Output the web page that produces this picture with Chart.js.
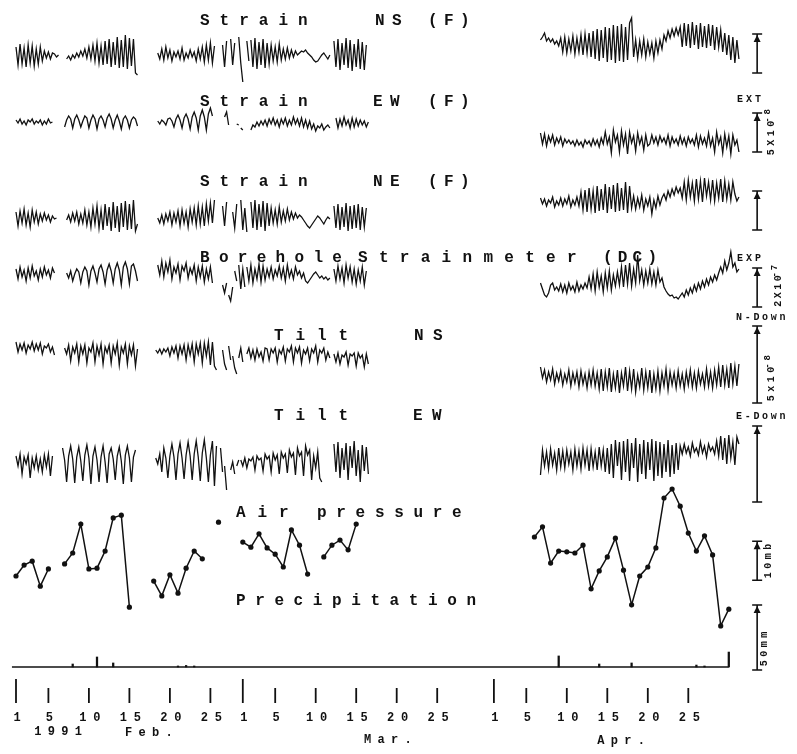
<!DOCTYPE html>
<html>
<head>
<meta charset="utf-8">
<script src="https://cdn.jsdelivr.net/npm/chart.js@4.4.0/dist/chart.umd.min.js"></script>
<style>
  html, body { margin: 0; padding: 0; background: #fff; }
  #wrap { width: 797px; height: 754px; }
</style>
</head>
<body>
<div id="wrap"><canvas id="chart" width="797" height="754"></canvas></div>
<script>
// days counted from 1 Feb 1991 (= day 0); traces read every 6 hours
const STEP = 0.25;

// each trace: list of [start day, readings]; null = pen lifted
const strainNsFeb = [
  [0, [8,-10,11,-9,7,-12,10,-8,9,-11,6,-9,8,-6,4,-3,3,-4,2,1,-2,0]],
  [6.25, [-4,-1,-5,0,-3,2,-2,4,-1,6,-3,8,-4,10,-6,12,-8,9,-10,14,-9,16,-12,13,-10,18,-13,15,-12,20,-14,17,-11,16,-18,-20]],
  [17.5, [2,-4,6,-5,8,-3,5,-6,3,-2,4,-4,7,-5,2,-3,5,-2,3,-6,6,-4,8,-7,10,-5,12,-8,9]],
  [25.5, [10,-12,14]],
  [26.5, [16,-10,12]],
  [27.5, [18,-8,-27]],
  [28.5, [14,-6]],
  [29, [15,-12,17,-14,13,-10,16,-13,12,-9,10,-6,8,-7,11,-5,6,-4,7,-3,5,-2,4,0,2,4,3,5,2,0,-2,-5,-7,-6,-3,0,2,-1,-4,0]],
  [39.25, [14,-12,16,-15,12,-10,17,-13,15,-16,11,-12,16,-14,13,-15,10]]
];
const strainNsApr = [
  [64.75, [15,18,22,14,17,13,16,11,14,9,
    17,3,18,2,16,4,19,1,17,3,20,0,21,2,22,
    -2,24,-4,26,-6,25,-3,28,-7,27,-5,30,-8,29,-6,31,-7,28,-5,32,
    37,-2,
    15,-3,14,0,16,-2,13,1,12,-3,14,2,15,6,
    20,14,24,17,26,19,27,20,28,
    8,32,9,31,7,33,10,30,6,32,8,29,7,31,9,30,5,28,8,
    25,3,22,0,20,-5,18,-8,15,-4]]
];

const strainEwFeb = [
  [0, [2,-1,3,-2,1,-3,2,0,3,-2,1,-1,2,-3,1,-2,3,-1,0]],
  [6, [-5,2,6,3,-6,3,7,2,-5,1,6,4,-6,2,7,3,-7,3,6,2,-5,4,8,3,-6,2,7,1,-7,3,6,2,-6,2,5,3,-4]],
  [17.5, [1,-2,2,0,-3,3,4,1,-5,3,7,2,-6,4,8,3,-7,5,10,4,-8,6,12,5,-8,8,14,6]],
  [25.75, [5,10,-3]],
  [27.25, [-2,-3]],
  [27.75, [-6,-8]],
  [29, [-8,-3,-5,0,-4,1,-3,2,-4,3,-2,4,-3,2,-5,3,-2,4,-4,2,-3,5,-2,3,-4,4,-5,2,-6,1,-7,-2,-9,-4,-6,-2,-8,-5,-3,-6]],
  [39.5, [4,-6,3,-4,5,-3,2,-6,4,-5,3,-4,2,-3,1,-5,0]]
];
const strainEwApr = [
  [64.75, [-11,-22,-12,-24,-14,-20,-13,-23,-16,-21,-15,-24,-17,-21,-18,
    -22,-19,-24,-18,-23,-20,-25,-18,-22,-19,-24,-17,-23,-18,-25,-16,-22,
    -10,-22,-15,-31,-8,-20,-13,-30,-9,-23,-12,-32,-10,-21,-14,-29,-11,-22,-15,-28,-13,-24,
    -22,-13,-21,-15,-23,-14,-20,-16,-22,-13,-24,-15,-21,-17,-23,-14,-22,-16,-24,-15,-21,-17,-23,-13,-25,-14,-22,-16,-24,
    -11,-24,-16,-30,-10,-22,-15,-31,-12,-25,-14,-32,-13,-23,-18,-30]]
];

const strainNeFeb = [
  [0, [6,-8,7,-5,9,-7,5,-9,8,-4,6,-6,4,-3,5,-2,3,-4,2,-1,0]],
  [6.25, [-2,3,-4,5,-3,6,-6,4,-5,8,-7,6,-9,10,-6,12,-10,8,-12,14,-8,11,-13,16,-10,12,-14,15,-9,17,-12,14,-11,18,-13,-6]],
  [17.5, [0,-5,3,-6,4,-3,6,-7,5,-4,7,-8,8,-5,6,-9,9,-4,10,-7,12,-6,11,-8,14,-3,15,-5,18]],
  [25.5, [12,-8,16]],
  [26.75, [6,-10,14]],
  [27.75, [18,-12,10,-14]],
  [29, [16,-10,18,-12,14,-9,17,-13,15,-8,10,-5,8,-6,11,-4,7,-3,9,-2,6,-1,5,0,3,1,-2,-5,-8,-10,-7,-4,-1,2,0,-3,-6,-2,1,-1]],
  [39.25, [12,-10,14,-12,11,-9,15,-13,12,-11,13,-10,14,-12,11,-9,10]]
];
const strainNeApr = [
  [64.75, [20,14,19,12,18,15,21,11,17,13,20,12,19,14,22,11,18,13,21,12,
    26,8,28,6,30,9,27,5,32,7,29,8,34,5,31,9,33,6,35,7,30,8,36,5,32,
    10,22,9,20,11,23,8,19,12,21,4,18,10,22,13,20,
    24,18,27,21,29,23,31,25,30,
    20,36,18,38,21,35,17,39,19,37,16,40,22,36,18,38,17,35,20,39,16,37,19,34,18,36,
    24,17,21]]
];

const boreholeFeb = [
  [0, [6,-4,8,-2,5,-6,7,-3,9,-1,4,-5,6,-2,8,0,5,-3,7,2]],
  [6.25, [2,-3,4,-6,1,6,3,-8,3,8,4,-10,4,9,2,-7,6,10,3,-9,5,11,4,-8,6,12,5,-10,8,13,6,-9,9,11,4,-6]],
  [17.5, [10,0,14,-2,12,3,15,-4,8,2,11,-5,9,4,12,-3,7,1,10,-6,8,-2,9,-7,6,-4,8,-8]],
  [25.5, [-10,-18,-8]],
  [26.25, [-20,-26,-12]],
  [27, [4,-6]],
  [27.5, [10,-14,6,-12]],
  [28.5, [8,-6,10,-8,6,-4,11,-7,9,-5,6,-2,8,-4,5,-1,9,-3,7,-6,10,-2,5,-4,8,0,4,-3,2,-6,-8,-5,-2,1,3,0,-3,-1,-4,-2,-5,-3]],
  [39.25, [6,-6,9,-4,7,-8,10,-3,8,-7,6,-9,5,-6,8,-10,4]]
];
const boreholeApr = [
  [64.75, [-8,-14,-20,-22,-18,-10,-8,-15,-12,
    -16,-9,-17,-10,-18,-8,-15,-11,-17,-7,-16,-10,-14,-8,-13,
    -2,-14,1,-16,3,-12,-1,-17,2,-13,4,-15,0,-11,3,-10,
    8,-12,10,-9,12,-11,6,-8,
    20,-6,
    5,-10,4,-8,6,-9,3,-10,5,-7,-3,
    -12,-16,-19,-21,-20,-23,-22,-24,-21,
    -18,-22,-15,-20,-13,-18,-10,-16,-8,-14,-6,-12,-4,-10,-2,-7,0,-5,2,
    8,2,14,5,12,23,8,
    12,3,6]]
];

const tiltNsFeb = [
  [0, [10,0,8,2,9,-1,7,3,10,1,8,2,9,-2,6,4,8,0,5,-3]],
  [6, [4,-2,7,-9,5,-1,8,-10,6,-2,7,-11,4,0,9,-10,6,-3,8,-12,5,-1,7,-11,6,-2,9,-13,5,-1,8,-12,6,-3,7,-14,3]],
  [17.25, [2,-1,3,-2,3,0,4,-4,5,-1,6,-6,6,-2,7,-8,7,-3,8,-10,8,-2,9,-11,9,-4,10,-13,10,-14,-18]],
  [25.5, [2,-12,-18]],
  [26.25, [6,-8]],
  [26.75, [-4,-16,-22]],
  [27.5, [-6,4,-10]],
  [28.5, [-2,4,-6,2,-8,3,-5,0,-9,4,3,-8,3,-1,4,-10,2,-2,5,-9,3,0,6,-10,4,-1,5,-11,2,-2,4,-9,3,-1,6,-10,2,-1,4,-8,0,-6]],
  [39.25, [-2,-10,-1,-12,-3,-5,0,-13,-2,-4,-1,-14,-1,-6,-3,-15,-2,-12]]
];
const tiltNsApr = [
  [64.75, [-15,-26,-18,-30,-20,-28,-17,-32,-21,-29,-19,-33,-22,-30,-18,-34,-21,-31,-20,-35,-19,-32,-22,-36,-20,-33,-18,-34,-21,-37,
    -17,-39,-20,-35,-16,-40,-22,-36,-18,-41,-21,-34,-15,-39,-19,-37,-17,-40,-23,-35,-16,-38,-20,-36,-18,-41,-22,-37,-19,-39,-21,-34,-17,-38,-20,
    -33,-21,-36,-19,-34,-22,-37,-20,-33,-18,-35,-21,-36,-19,-32,-22,-35,-17,-34,-20,-36,-18,-33,-15,
    -35,-13,-33,-17,-36,-11,-32,-14,-34,-12]]
];

const tiltEwFeb = [
  [0, [6,-4,8,-12,5,-2,7,-16,4,-6,6,-8,3,-10,7,-5,8,-14,6]],
  [5.75, [14,2,-20,6,16,3,-21,5,15,1,-19,7,17,4,-22,6,15,2,-20,5,16,0,-21,8,14,3,-18,6,15,1,-22,7,16,4,-20,5,12]],
  [17.25, [4,-2,8,-10,14,4,-16,6,18,5,-18,8,19,4,-17,7,20,6,-18,8,21,5,-19,9,22,4,-20,7,21,-24,16]],
  [25.25, [14,-10]],
  [25.75, [-4,-28]],
  [26.5, [-8,0,-12]],
  [27.25, [-4,2]],
  [27.75, [2,-4,4,-6,3,1,5,-8,6,2,4,-9,8,3,6,-10,9,2,7,-12,10,4,8,-11,12,5,9,-13,14,6,10,-14,16,7,12,-18,6,-6,10,-16,-20]],
  [39.25, [18,-10,20,-16,14,-8,19,-18,16,-6,21,-14,12,-20,17,-9,15,-12]]
];
const tiltEwApr = [
  [64.75, [-13,12,-4,10,-7,13,-3,9,-8,14,-5,11,-6,12,-2,10,-8,13,-4,11,-7,14,-3,12,-9,13,-5,10,-8,15,-4,12,-10,14,
    -12,18,-16,22,-4,20,-18,21,-10,23,-19,19,-6,24,-20,18,-12,22,-17,20,-8,23,-19,21,-14,20,-16,18,-10,22,-15,17,-12,19,-8,
    16,8,18,9,15,6,19,10,14,7,20,9,16,5,18,11,15,8,21,6,
    26,2,24,-2,27,4,20,-3,25,18]]
];

// daily air pressure (mb)
const airDays = [0,1,2,3,4, 6,7,8,9,10,11,12,13,14, 17,18,19,20,21,22,23, 25,
  28,29,30,31,32,33,34,35,36, 38,39,40,41,42,
  64,65,66,67,68,69,70,71,72,73,74,75,76,77,78,79,80,81,82,83,84,85,86,87,88];
const airMb = [1010.9,1013.7,1014.7,1008.3,1012.7,
  1014.0,1016.8,1024.2,1012.7,1012.9,1017.3,1025.8,1026.5,1002.9,
  1009.6,1005.8,1011.2,1006.5,1012.9,1017.3,1015.3,
  1024.7,
  1019.6,1018.3,1021.7,1018.1,1016.5,1013.2,1022.7,1018.8,1011.4,
  1015.8,1018.8,1020.1,1017.6,1024.2,
  1020.9,1023.5,1014.2,1017.3,1017.1,1016.8,1018.8,1007.6,1012.2,1015.8,1020.6,1012.4,1003.5,
  1010.9,1013.2,1018.1,1030.9,1033.2,1028.8,1021.9,1017.3,1021.2,1016.3,998.1,1002.4];

// daily precipitation (mm)
const rainDays = [7, 10, 12, 20, 21, 22, 67, 72, 76, 84, 85, 88];
const rainMm = [2.3, 7.7, 3.1, 0.8, 1.2, 0.8, 8.5, 2.3, 3.1, 1.5, 0.8, 11.5];
const recordSpan = [-0.5, 88];

// time axis
const tickDays = [0,4,9,14,19,24, 28,32,37,42,47,52, 59,63,68,73,78,83];
const tickLabels = ['1','5','10','15','20','25','1','5','10','15','20','25','1','5','10','15','20','25'];
const monthStarts = [0, 28, 59];
const monthNames = ['1991', 'Feb.', 'Mar.', 'Apr.'];
const monthNameDays = [5.2, 16.4, 45.9, 74.7];

const W = 797, H = 754;
const MONO = '"Liberation Mono", "DejaVu Sans Mono", monospace';

// value range of a hidden axis so that centerValue sits at centerPx
function band(centerPx, centerValue, pxPerUnit) {
  return {
    type: 'linear', display: false,
    min: centerValue - (H - centerPx) / pxPerUnit,
    max: centerValue + centerPx / pxPerUnit
  };
}

function toPoints(segments) {
  const pts = [];
  segments.forEach(([start, vals]) => {
    vals.forEach((v, i) => pts.push({ x: start + i * STEP, y: v }));
    pts.push({ x: start + vals.length * STEP, y: null });
  });
  return pts;
}

function trace(segments, axis) {
  return {
    type: 'line', data: toPoints(segments), yAxisID: axis,
    borderColor: '#111', borderWidth: 1.3, pointRadius: 0, tension: 0
  };
}

const airPoints = [];
airDays.forEach((d, i) => {
  if (i > 0 && d - airDays[i - 1] > 1) airPoints.push({ x: (d + airDays[i - 1]) / 2, y: null });
  airPoints.push({ x: d, y: airMb[i] });
});

const datasets = [
  trace(strainNsFeb, 'sNS'), trace(strainNsApr, 'sNS'),
  trace(strainEwFeb, 'sEW'), trace(strainEwApr, 'sEW'),
  trace(strainNeFeb, 'sNE'), trace(strainNeApr, 'sNE'),
  trace(boreholeFeb, 'dc'), trace(boreholeApr, 'dc'),
  trace(tiltNsFeb, 'tNS'), trace(tiltNsApr, 'tNS'),
  trace(tiltEwFeb, 'tEW'), trace(tiltEwApr, 'tEW'),
  {
    type: 'line', data: airPoints, yAxisID: 'air',
    borderColor: '#111', borderWidth: 1.5, tension: 0,
    pointRadius: 2.6, pointBackgroundColor: '#111', pointBorderWidth: 0
  },
  {
    type: 'bar', data: rainDays.map((d, i) => ({ x: d, y: rainMm[i] })), yAxisID: 'rain',
    backgroundColor: '#111', barThickness: 1.6, grouped: false
  }
];

function spaced(ctx, text, x, y, pitch) {
  for (let i = 0; i < text.length; i++) ctx.fillText(text[i], x + i * pitch, y);
}
function spacedCenter(ctx, text, cx, y, pitch) {
  ctx.textAlign = 'center';
  const x0 = cx - (text.length - 1) * pitch / 2;
  for (let i = 0; i < text.length; i++) ctx.fillText(text[i], x0 + i * pitch, y);
  ctx.textAlign = 'left';
}
function vertical(ctx, base, sup, x, yBottom, pitch) {
  ctx.save();
  ctx.translate(x, yBottom);
  ctx.rotate(-Math.PI / 2);
  ctx.textBaseline = 'middle';
  ctx.textAlign = 'center';
  for (let i = 0; i < base.length; i++) ctx.fillText(base[i], pitch / 2 + i * pitch, 0);
  if (sup) {
    ctx.font = 'bold 9px ' + MONO;
    for (let i = 0; i < sup.length; i++) ctx.fillText(sup[i], pitch / 2 + (base.length + i) * pitch * 0.85, -3);
  }
  ctx.restore();
}
function scaleBar(ctx, x, yTop, yBot) {
  ctx.beginPath();
  ctx.moveTo(x, yTop); ctx.lineTo(x, yBot);
  ctx.moveTo(x - 5, yTop); ctx.lineTo(x + 5, yTop);
  ctx.moveTo(x - 5, yBot); ctx.lineTo(x + 5, yBot);
  ctx.stroke();
  ctx.beginPath();
  ctx.moveTo(x, yTop + 1); ctx.lineTo(x - 3.5, yTop + 8); ctx.lineTo(x + 3.5, yTop + 8);
  ctx.closePath(); ctx.fill();
}

const paperText = {
  id: 'paperText',
  beforeDatasetsDraw(chart) {
    // zero line of the precipitation record
    const ctx = chart.ctx, s = chart.scales;
    const y0 = s.rain.getPixelForValue(0);
    ctx.save();
    ctx.strokeStyle = '#111';
    ctx.lineWidth = 1.5;
    ctx.beginPath();
    ctx.moveTo(s.x.getPixelForValue(recordSpan[0]), y0);
    ctx.lineTo(s.x.getPixelForValue(recordSpan[1]), y0);
    ctx.stroke();
    ctx.restore();
  },
  afterDraw(chart) {
    const ctx = chart.ctx;
    const s = chart.scales;
    ctx.save();
    ctx.fillStyle = '#111';
    ctx.strokeStyle = '#111';
    ctx.textBaseline = 'alphabetic';
    ctx.textAlign = 'left';

    // panel titles
    ctx.font = 'bold 16px ' + MONO;
    const rows = [
      [25, [['Strain', 200, 19.6], ['NS', 375, 17], ['(F)', 428, 16]]],
      [106, [['Strain', 200, 19.6], ['EW', 373, 17], ['(F)', 428, 16]]],
      [186, [['Strain', 200, 19.6], ['NE', 373, 17], ['(F)', 428, 16]]],
      [262, [['Borehole', 200, 18.9], ['Strainmeter', 358, 20.9], ['(DC)', 603, 14.8]]],
      [340, [['Tilt', 274, 21.5], ['NS', 414, 19]]],
      [420, [['Tilt', 274, 21.5], ['EW', 413, 19]]],
      [517, [['Air', 236, 21.5], ['pressure', 317, 19.3]]],
      [605, [['Precipitation', 236, 19.2]]]
    ];
    rows.forEach(([y, words]) => words.forEach(([t, x, p]) => spaced(ctx, t, x, y, p)));

    // scale bars, drawn in each panel's own units
    ctx.lineWidth = 1.6;
    const bx = s.x.getPixelForValue(91.5);
    [['sNS', -18, 21], ['sEW', -30, 9], ['sNE', -12, 27], ['dc', -32, 7],
     ['tNS', -51, 26], ['tEW', -40, 36], ['air', 1009.8, 1019.8], ['rain', -2.3, 47.7]]
      .forEach(([id, lo, hi]) => scaleBar(ctx, bx, s[id].getPixelForValue(hi), s[id].getPixelForValue(lo)));

    ctx.font = 'bold 10px ' + MONO;
    spaced(ctx, 'EXT', 737, 102, 9);
    spaced(ctx, 'EXP', 737, 261, 9);
    spaced(ctx, 'N-Down', 736, 320, 8.7);
    spaced(ctx, 'E-Down', 736, 419, 8.7);
    vertical(ctx, '5X10', '-8', 771, 157, 9.5);
    vertical(ctx, '2X10', '-7', 778, 308, 8.5);
    vertical(ctx, '5x10', '-8', 771, 403, 9.5);
    vertical(ctx, '10mb', '', 768, 580, 9.5);
    vertical(ctx, '50mm', '', 764, 668, 9.5);

    // day ticks and labels
    ctx.lineWidth = 1.8;
    tickDays.forEach((d) => {
      const x = s.x.getPixelForValue(d);
      const top = monthStarts.includes(d) ? 679 : 688;
      ctx.beginPath(); ctx.moveTo(x, top); ctx.lineTo(x, 703); ctx.stroke();
    });
    ctx.font = 'bold 12px ' + MONO;
    tickDays.forEach((d, i) => spacedCenter(ctx, tickLabels[i], s.x.getPixelForValue(d) + 1, 721, 14));
    const monthY = [735, 736, 743, 744];
    monthNames.forEach((t, i) => spacedCenter(ctx, t, s.x.getPixelForValue(monthNameDays[i]), monthY[i], 13.5));
    ctx.restore();
  }
};

new Chart(document.getElementById('chart'), {
  type: 'line',
  data: { datasets },
  options: {
    responsive: false,
    animation: false,
    devicePixelRatio: 1,
    layout: { padding: 0, autoPadding: false },
    plugins: { legend: { display: false }, tooltip: { enabled: false } },
    scales: {
      x: { type: 'linear', display: false, offset: false, min: -16 / 8.1, max: (W - 16) / 8.1 },
      sNS: band(55, 0, 1),
      sEW: band(122, 0, 1),
      sNE: band(218, 0, 1),
      dc: band(275, 0, 1),
      tNS: band(352, 0, 1),
      tEW: band(462, 0, 1),
      air: band(560, 1015, 3.9),
      rain: band(667, 0, 1.3)
    }
  },
  plugins: [paperText]
});
</script>
</body>
</html>
